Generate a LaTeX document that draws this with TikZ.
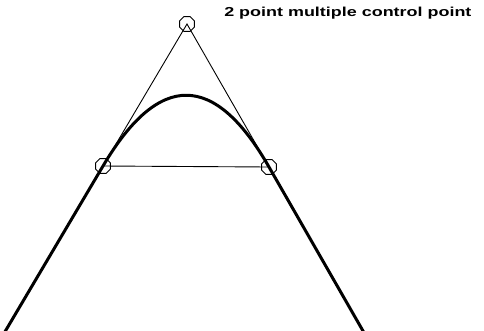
\documentclass[tikz,border=0pt]{standalone}
\usepackage{fontspec}
\setmainfont{Liberation Sans}
\usetikzlibrary{shapes.geometric,calc}
\begin{document}
\begin{tikzpicture}[x=1pt,y=-1pt,
  cpoint/.style={regular polygon,regular polygon sides=8,draw,line width=0.9pt,minimum size=16pt,inner sep=0pt},
  thinline/.style={line width=0.9pt},
  curve/.style={line width=3pt,line join=round}]
\useasboundingbox (0,0) rectangle (484,330);
\coordinate (T) at (187,24);
\coordinate (L) at (103,166);
\coordinate (R) at (269,167);
\node[cpoint] (nT) at (T) {};
\node[cpoint] (nL) at (L) {};
\node[cpoint] (nR) at (R) {};
\draw[thinline] (T) -- (L) -- (R) -- cycle;
\coordinate (BL) at ($(T)!2.17!(L)$);
\coordinate (BR) at ($(T)!2.16!(R)$);
\draw[curve] (BL) -- (L) .. controls ($(L)!2/3!(T)$) and ($(R)!2/3!(T)$) .. (R) -- (BR);
\node[anchor=base west,inner sep=0pt,xscale=1.38,font=\bfseries\fontsize{13}{15}\selectfont] (lbl) at (224,16.5) {2 point multiple control point};
\end{tikzpicture}
\end{document}
